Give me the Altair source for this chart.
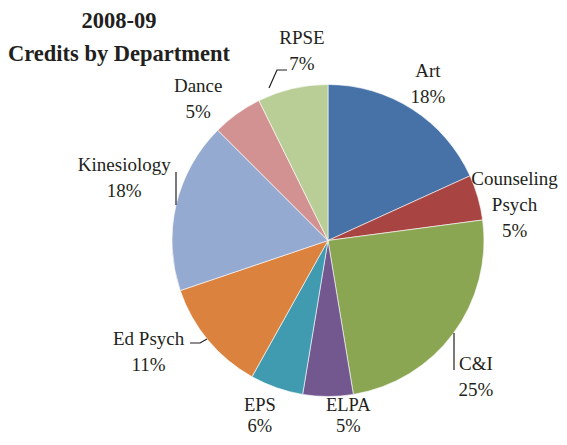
import math
import altair as alt
import pandas as pd

# ---- data ----
departments = ["Art", "Counseling Psych", "C&I", "ELPA", "EPS", "Ed Psych",
               "Kinesiology", "Dance", "RPSE"]
shares = [18.2, 4.7, 24.5, 5.2, 5.5, 11.7, 17.7, 5.2, 7.3]
pct_labels = ["18%", "5%", "25%", "5%", "6%", "11%", "18%", "5%", "7%"]
name_lines = [["Art"], ["Counseling", "Psych"], ["C&I"], ["ELPA"], ["EPS"],
              ["Ed Psych"], ["Kinesiology"], ["Dance"], ["RPSE"]]
colors = ["#4672A7", "#A84543", "#8AA652", "#73578F", "#409BB1",
          "#DB823E", "#95AAD0", "#D29291", "#B8CE96"]
title_lines = ["2008-09", "Credits by Department"]

# ---- layout ----
W, H = 551, 429
CX, CY, R = 320, 232.5, 156
FONT = "Liberation Serif"
TXT = "#231F20"
LH = 26          # line height of labels
LH_BOTTOM = 21   # tighter line height for labels under the pie
bottom_labels = {"ELPA", "EPS"}
# label placement: angular nudge (deg) from slice mid-angle, radius (px)
label_nudge = {"Art": (-0.3, 186), "Counseling Psych": (5.1, 190), "C&I": (6.1, 201),
               "ELPA": (-6.6, 176), "EPS": (2.0, 188), "Ed Psych": (8.0, 211),
               "Kinesiology": (3.8, 213), "Dance": (-6.9, 192), "RPSE": (5.3, 191)}
# leader lines (chart pixel coords)
leaders = [
    ("RPSE", [(261, 80), (269, 62), (279, 62)]),
    ("Kinesiology", [(168, 164), (168, 197)]),
    ("Ed Psych", [(182, 335), (192, 335), (199, 331)]),
    ("C&I", [(446, 325), (446, 362)]),
]

total = sum(shares)
rows = []
cum = 0.0
for i, (d, s) in enumerate(zip(departments, shares)):
    mid = (cum + s / 2) / total * 360
    cum += s
    da, lr = label_nudge[d]
    a = math.radians(mid + da)
    lines_ = name_lines[i] + [pct_labels[i]]
    n = len(lines_)
    lh = LH_BOTTOM if d in bottom_labels else LH
    rows.append({"dept": d, "share": s, "order": i,
                 "label": lines_,
                 "bottom": d in bottom_labels,
                 "lx": CX + lr * math.sin(a),
                 "ly": CY - lr * math.cos(a) - (n - 1) * lh / 2})
df = pd.DataFrame(rows)

pie = alt.Chart(df).mark_arc(radius=R, stroke="white", strokeWidth=0.6).encode(
    theta=alt.Theta("share:Q", stack=True),
    order=alt.Order("order:Q"),
    color=alt.Color("dept:N", scale=alt.Scale(domain=departments, range=colors), legend=None),
    x=alt.value(CX), y=alt.value(CY),
)

def label_layer(bottom, lh, size):
    return alt.Chart(df).transform_filter(
        alt.datum.bottom if bottom else ~alt.datum.bottom
    ).mark_text(font=FONT, fontSize=size, color=TXT, lineHeight=lh,
                align="center", baseline="middle").encode(
        x=alt.X("lx:Q", scale=None), y=alt.Y("ly:Q", scale=None),
        text="label",
    )

labels = label_layer(False, LH, 19)
labels_bottom = label_layer(True, LH_BOTTOM, 18.5)

lrows = []
for k, (name, pts) in enumerate(leaders):
    for j, (px, py) in enumerate(pts):
        lrows.append({"lead": name, "i": j, "px": px, "py": py})
ldf = pd.DataFrame(lrows)
lines = alt.Chart(ldf).mark_line(color=TXT, strokeWidth=1.2).encode(
    x=alt.X("px:Q", scale=None), y=alt.Y("py:Q", scale=None),
    detail="lead:N", order="i:Q",
)

title = alt.Chart(pd.DataFrame({"t": [title_lines]})).mark_text(
    font=FONT, fontSize=22.5, fontWeight="bold", color=TXT, lineHeight=33,
    align="center", baseline="alphabetic").encode(
    text="t", x=alt.value(111), y=alt.value(20))

chart = alt.layer(pie, labels, labels_bottom, lines, title).properties(
    width=W, height=H, padding=0, autosize=alt.AutoSizeParams(type="none")
).configure_view(stroke=None)

chart.save("out.html", embed_options={"renderer": "svg", "actions": False})
